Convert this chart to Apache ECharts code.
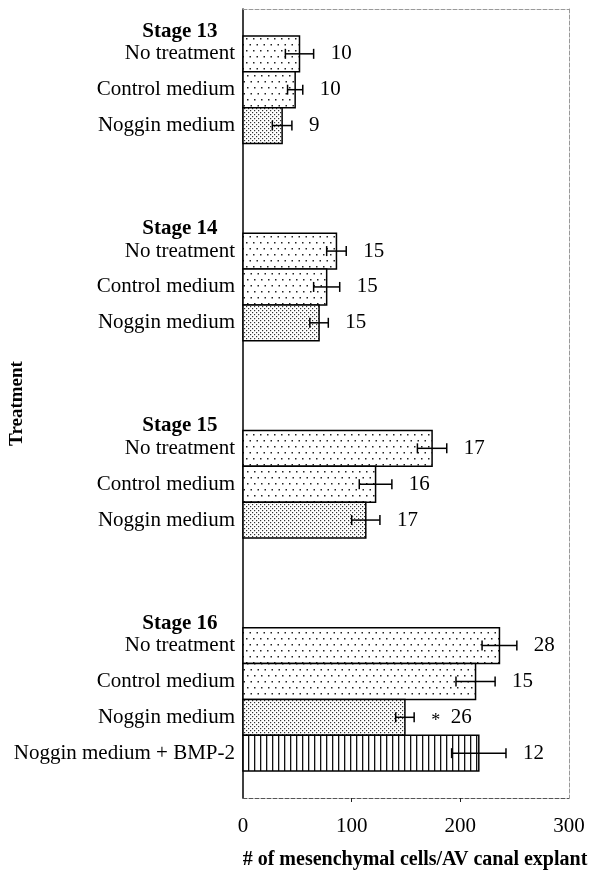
<!DOCTYPE html>
<html>
<head>
<meta charset="utf-8">
<script src="https://cdn.jsdelivr.net/npm/echarts@6/dist/echarts.min.js"></script>
<style>
  html, body { margin: 0; padding: 0; background: #fff; }
  #chart { width: 592px; height: 871px; }
</style>
</head>
<body>
<div id="chart"></div>
<script>
// ---- data ----
const stages = ['Stage 13', 'Stage 14', 'Stage 15', 'Stage 16'];
const treatments = ['No treatment', 'Control medium', 'Noggin medium', 'Noggin medium + BMP-2'];
// mean number of mesenchymal cells per explant, one list per stage (order follows treatments)
const meanCells = [
  [52, 48, 36],
  [86, 77, 70],
  [174, 122, 113],
  [236, 214, 149, 217]
];
// standard error of the mean
const semCells = [
  [13, 7, 9],
  [9, 12, 8.5],
  [13.5, 15, 13],
  [16, 18, 8.5, 25]
];
// number of explants
const nExplants = [
  [10, 10, 9],
  [15, 15, 15],
  [17, 16, 17],
  [28, 15, 26, 12]
];
// significance marks
const marks = [
  ['', '', ''],
  ['', '', ''],
  ['', '', ''],
  ['', '', '*', '']
];
const xTicks = [0, 100, 200, 300];

// ---- layout helpers ----
const FONT = '"Liberation Serif", "Times New Roman", Times, serif';
const GROUP_STEP = 5.5;   // rows + gap between stage blocks, in row units
const FIRST_ROW = 1.25;
const STAGE_OFFSET = 0.625;

function measure(text, font) {
  const c = document.createElement('canvas').getContext('2d');
  c.font = font;
  return c.measureText(text).width;
}
const wNoTreat = measure(treatments[0], '21px ' + FONT);

function pattern(w, h, draw) {
  const c = document.createElement('canvas');
  c.width = w; c.height = h;
  const ctx = c.getContext('2d');
  ctx.fillStyle = '#fff';
  ctx.fillRect(0, 0, w, h);
  draw(ctx);
  return { image: c, repeat: 'repeat' };
}
const fills = [
  pattern(7, 12, ctx => { ctx.fillStyle = '#222'; ctx.fillRect(1, 2, 1.5, 1.5); ctx.fillRect(4.5, 8, 1.5, 1.5); }),
  pattern(7, 12, ctx => { ctx.fillStyle = '#222'; ctx.fillRect(2, 3, 1.5, 1.5); ctx.fillRect(5.5, 9, 1.5, 1.5); }),
  pattern(4, 4, ctx => { ctx.fillStyle = '#333'; ctx.fillRect(0, 0, 1.2, 1.2); ctx.fillRect(2, 2, 1.2, 1.2); }),
  pattern(6, 4, ctx => { ctx.fillStyle = '#111'; ctx.fillRect(2, 0, 1.3, 4); })
];

// rows of the chart
const rows = [];
const labelMap = {};
const key = v => Number(v).toFixed(3);
stages.forEach((stage, g) => {
  const base = FIRST_ROW + g * GROUP_STEP;
  labelMap[key(base - STAGE_OFFSET)] = '{st|' + stage + '}';
  meanCells[g].forEach((m, r) => {
    const pos = base + r;
    labelMap[key(pos)] = treatments[r];
    rows.push({ pos, mean: m, sem: semCells[g][r], n: nExplants[g][r], mark: marks[g][r], type: r });
  });
});
const labelValues = Object.keys(labelMap).map(Number).sort((a, b) => a - b);
const yMax = FIRST_ROW + (stages.length - 1) * GROUP_STEP + 3 + 1.25;

const chart = echarts.init(document.getElementById('chart'), null, { renderer: 'canvas' });

chart.setOption({
  backgroundColor: '#fff',
  animation: false,
  grid: { left: 243, top: 9, width: 326, height: 789, containLabel: false, outerBoundsMode: 'none' },
  xAxis: [{
    type: 'value', min: xTicks[0], max: xTicks[xTicks.length - 1], interval: 100, position: 'bottom',
    axisLine: { show: true, onZero: false, lineStyle: { color: '#555', type: 'dashed', width: 1 } },
    axisTick: { show: true, length: 4, inside: false, customValues: [100, 200], lineStyle: { color: '#222', width: 1 } },
    axisLabel: { fontFamily: FONT, fontSize: 21, color: '#000', margin: 18 },
    splitLine: { show: false },
    name: '# of mesenchymal cells/AV canal explant',
    nameLocation: 'middle', nameGap: 52, nameMoveOverlap: false,
    nameTextStyle: { fontFamily: FONT, fontSize: 20, fontWeight: 'bold', color: '#000', padding: [0, 0, 0, 18] }
  }, {
    type: 'value', min: 0, max: 300, position: 'top',
    axisLine: { show: true, onZero: false, lineStyle: { color: '#999', type: 'dashed', width: 1 } },
    axisTick: { show: false }, axisLabel: { show: false }, splitLine: { show: false }
  }],
  yAxis: [{
    type: 'value', inverse: true, min: 0, max: yMax, position: 'left',
    axisLine: { show: true, onZero: false, lineStyle: { color: '#000', width: 1.5 } },
    axisTick: { show: false },
    splitLine: { show: false },
    axisLabel: {
      customValues: labelValues,
      formatter: v => labelMap[key(v)] || '',
      margin: 8, fontFamily: FONT, fontSize: 21, color: '#000',
      rich: { st: { fontFamily: FONT, fontSize: 21, fontWeight: 'bold', color: '#000', width: wNoTreat, align: 'center' } }
    },
    name: 'Treatment', nameLocation: 'middle', nameGap: 216, nameRotate: 90, nameMoveOverlap: false,
    nameTextStyle: { fontFamily: FONT, fontSize: 19, fontWeight: 'bold', color: '#000' }
  }, {
    type: 'value', inverse: true, min: 0, max: yMax, position: 'right',
    axisLine: { show: true, onZero: false, lineStyle: { color: '#999', type: 'dashed', width: 1 } },
    axisTick: { show: false }, axisLabel: { show: false }, splitLine: { show: false }
  }],
  series: [{
    type: 'custom',
    name: 'bars',
    xAxisIndex: 0, yAxisIndex: 0,
    data: rows.map(r => [r.mean, r.pos]),
    renderItem: (params, api) => {
      const row = rows[params.dataIndex];
      const a = api.coord([0, api.value(1) - 0.5]);
      const b = api.coord([api.value(0), api.value(1) + 0.5]);
      return {
        type: 'rect',
        shape: { x: a[0], y: Math.min(a[1], b[1]), width: b[0] - a[0], height: Math.abs(b[1] - a[1]) },
        style: { fill: fills[row.type], stroke: '#000', lineWidth: 1.5 }
      };
    }
  }, {
    type: 'custom',
    name: 'errors',
    xAxisIndex: 0, yAxisIndex: 0,
    z: 3,
    data: rows.map(r => [r.mean, r.pos, r.sem]),
    renderItem: (params, api) => {
      const row = rows[params.dataIndex];
      const m = api.value(0), p = api.value(1), e = api.value(2);
      const lo = api.coord([m - e, p]);
      const hi = api.coord([m + e, p]);
      const cap = 5;
      const text = row.mark ? '{mk|' + row.mark + '}  ' + row.n : String(row.n);
      return {
        type: 'group',
        children: [
          { type: 'line', shape: { x1: lo[0], y1: lo[1], x2: hi[0], y2: hi[1] }, style: { stroke: '#000', lineWidth: 1.5 } },
          { type: 'line', shape: { x1: lo[0], y1: lo[1] - cap, x2: lo[0], y2: lo[1] + cap }, style: { stroke: '#000', lineWidth: 1.5 } },
          { type: 'line', shape: { x1: hi[0], y1: hi[1] - cap, x2: hi[0], y2: hi[1] + cap }, style: { stroke: '#000', lineWidth: 1.5 } },
          {
            type: 'text',
            x: hi[0] + 17, y: hi[1],
            style: {
              text, fill: '#000', fontFamily: FONT, fontSize: 21,
              align: 'left', verticalAlign: 'middle',
              rich: { mk: { fontFamily: FONT, fontSize: 18, fill: '#000', padding: [8, 0, 0, 0] } }
            }
          }
        ]
      };
    }
  }]
});
</script>
</body>
</html>
